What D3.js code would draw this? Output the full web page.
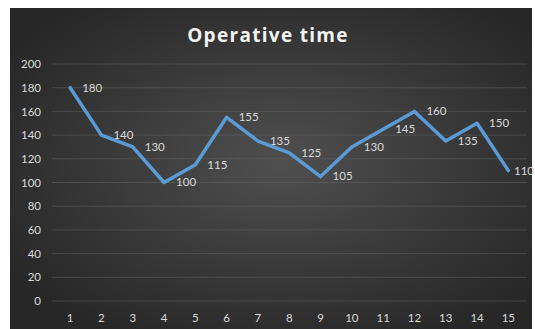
<!DOCTYPE html>
<html><head><meta charset="utf-8">
<script src="https://cdn.jsdelivr.net/npm/d3@7"></script>
<style>html,body{margin:0;padding:0;background:#fff;}svg{display:block;}</style>
</head><body>
<svg id="c" width="535" height="329"></svg>
<script>
const categories = ["1","2","3","4","5","6","7","8","9","10","11","12","13","14","15"];
const values = [180,140,130,100,115,155,135,125,105,130,145,160,135,150,110];
const yTicks = [0,20,40,60,80,100,120,140,160,180,200];
const title = "Operative time";

const svg = d3.select("#c");
const defs = svg.append("defs");
const g = defs.append("radialGradient").attr("id","bg").attr("cx","52%").attr("cy","48%").attr("r","62%");
g.append("stop").attr("offset","0%").attr("stop-color","#4f4f4f");
g.append("stop").attr("offset","100%").attr("stop-color","#272727");

svg.append("rect").attr("x",10).attr("y",8).attr("width",522).attr("height",321).attr("fill","url(#bg)");

const x = d3.scaleBand().domain(categories).range([54.5,524]);
const y = d3.scaleLinear().domain([0,200]).range([301,64]);
const xc = d => x(d) + x.bandwidth()/2;
const font = "Lato, 'Open Sans', sans-serif";

// gridlines
svg.append("g").selectAll("line").data(yTicks).join("line")
  .attr("x1",52).attr("x2",527)
  .attr("y1",d=>y(d)).attr("y2",d=>y(d))
  .attr("stroke","#6a6a6a").attr("stroke-opacity",0.45).attr("stroke-width",1);

// y axis labels
const yAxis = d3.axisLeft(y).tickValues(yTicks).tickSize(0).tickPadding(0);
const ya = svg.append("g").attr("transform","translate(41,0)").call(yAxis);
ya.select(".domain").remove();
ya.selectAll("text").attr("fill","#d9d9d9").style("font-family",font).style("font-size","11.5px");

// x axis labels
const xAxis = d3.axisBottom(x).tickSize(0).tickPadding(0);
const xa = svg.append("g").attr("transform","translate(0,314)").call(xAxis);
xa.select(".domain").remove();
xa.selectAll("text").attr("fill","#d9d9d9").style("font-family",font).style("font-size","11.5px");

// line
const line = d3.line().x((d,i)=>xc(categories[i])).y(d=>y(d));
svg.append("path").datum(values).attr("d",line)
  .attr("fill","none").attr("stroke","#5b9bd5").attr("stroke-width",3.5)
  .attr("stroke-linejoin","round").attr("stroke-linecap","round");

// data labels
const lbl = svg.append("g").selectAll("text").data(values).join("text")
  .attr("x",(d,i)=>xc(categories[i])+12).attr("y",d=>y(d)+1)
  .attr("dominant-baseline","middle")
  .attr("fill","#d9d9d9").style("font-family",font).style("font-size","11.5px")
  .text(d=>d);
lbl.each(function(){
  const w = this.getComputedTextLength();
  const cx = +this.getAttribute("x");
  if (cx + w > 534) this.setAttribute("x", 534 - w);
});

// title
svg.append("text").attr("x",268).attr("y",42).attr("text-anchor","middle")
  .attr("fill","#f2f2f2").style("font-family","'Open Sans', Lato, sans-serif").style("font-weight","700")
  .style("font-size","19px").style("letter-spacing","1.3px").text(title);
</script>
</body></html>
